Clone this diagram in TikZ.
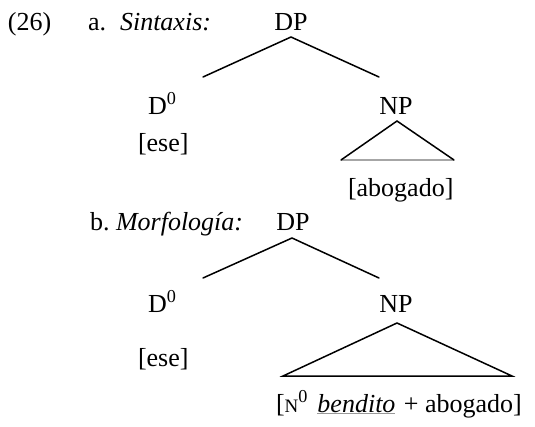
\documentclass[tikz,border=0pt]{standalone}
\usepackage{fontspec}
\setmainfont{Liberation Serif}
\newcommand{\grayul}[1]{\textcolor{black!40}{\underline{\textcolor{black}{#1}}}}
\begin{document}
\begin{tikzpicture}[x=1pt,y=-1pt,
  txt/.style={inner sep=0pt,outer sep=0pt,font=\fontsize{26}{30}\selectfont},
  branch/.style={line width=1.5pt,line cap=round},
  lite/.style={line width=1.6pt,draw=black!35}]
\useasboundingbox (0,0) rectangle (535,426);
% ---- (a)
\node[txt,anchor=base west] (num) at (8,30) {(26)};
\node[txt,anchor=base west] (la) at (88,30) {a.\hspace{14pt}\textit{Sintaxis:}};
\node[txt,anchor=base] (DPa) at (291,30) {DP};
\node[txt,anchor=base west] (Da) at (148,114) {D\textsuperscript{0}};
\node[txt,anchor=base] (NPa) at (396,114) {NP};
\node[txt,anchor=base west] (esea) at (138,151) {[ese]};
\node[txt,anchor=base west] (aboa) at (348,196) {[abogado]};
\coordinate (apa) at (291,37);
\coordinate (la1) at (203,77);
\coordinate (ra1) at (379,77);
\draw[branch] (la1) -- (apa) -- (ra1);
\coordinate (ta) at (397,121);
\coordinate (tla) at (341,160);
\coordinate (tra) at (454,160);
\draw[lite] (tla) -- (tra);
\draw[branch] (tla) -- (ta) -- (tra);
% ---- (b)
\node[txt,anchor=base west] (lb) at (90,230) {b.\ \textit{Morfología:}};
\node[txt,anchor=base] (DPb) at (293,230) {DP};
\node[txt,anchor=base west] (Db) at (148,312) {D\textsuperscript{0}};
\node[txt,anchor=base] (NPb) at (396,312) {NP};
\node[txt,anchor=base west] (eseb) at (138,366) {[ese]};
\node[txt,anchor=base west] (bot) at (276,412)
  {[{\fontsize{19}{20}\selectfont N}\textsuperscript{0}\hspace{3pt} \grayul{\textit{bendito}}\hspace{2pt} + abogado]};
\coordinate (apb) at (292,238);
\coordinate (lb1) at (203,278);
\coordinate (rb1) at (379,278);
\draw[branch] (lb1) -- (apb) -- (rb1);
\coordinate (tb) at (397,323);
\coordinate (tlb) at (283,376);
\coordinate (trb) at (512,376);
\draw[branch,line join=miter] (tlb) -- (tb) -- (trb) -- cycle;
\end{tikzpicture}
\end{document}
